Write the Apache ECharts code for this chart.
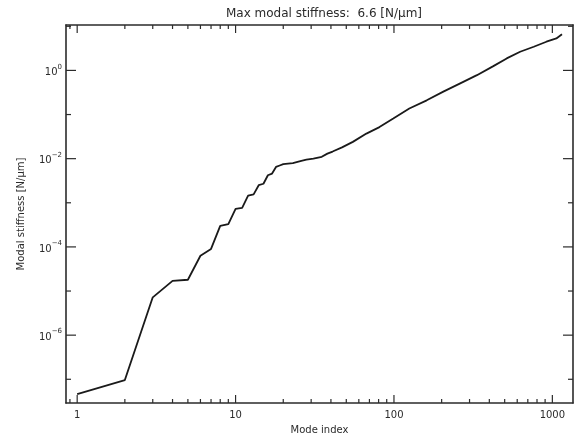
<!DOCTYPE html>
<html><head><meta charset="utf-8">
<script src="https://cdn.jsdelivr.net/npm/echarts@6/dist/echarts.min.js"></script>
<style>html,body{margin:0;padding:0;background:#fff}#c{width:583px;height:442px}</style>
</head><body><div id="c"></div>
<script>
const modeIndex = [1, 2, 3, 4, 5, 6, 7, 8, 9, 10, 11, 12, 13, 14, 15, 16, 17, 18, 19, 20,
  23, 26, 28, 31, 35, 38, 41, 47, 55, 67, 81, 99, 125, 161, 205, 262, 334, 424, 515, 626, 763, 917, 1060, 1150];
const stiffness = [4.6e-8, 9.6e-8, 7.2e-6, 1.7e-5, 1.8e-5, 6.3e-5, 9.0e-5, 3.0e-4, 3.3e-4, 7.3e-4,
  7.7e-4, 1.45e-3, 1.55e-3, 2.5e-3, 2.7e-3, 4.2e-3, 4.6e-3, 6.5e-3, 7.0e-3, 7.5e-3,
  7.9e-3, 8.9e-3, 9.5e-3, 1.0e-2, 1.1e-2, 1.3e-2, 1.45e-2, 1.8e-2, 2.4e-2, 3.7e-2, 5.2e-2, 8.1e-2,
  0.137, 0.21, 0.33, 0.51, 0.78, 1.25, 1.87, 2.65, 3.44, 4.47, 5.3, 6.6];
const xTickLabels = [1, 10, 100, 1000];
const yTickExponents = [0, -2, -4, -6];
const xRange = [0.85, 1350];
const yRange = [2.9e-8, 10.7];
const titleText = 'Max modal stiffness:  6.6 [N/\u03bcm]';

const FONT = 'DejaVu Sans';
const INK = '#2b2b2b';

// tick positions (decade sub-divisions) for the custom tick renderer
const xTicks = [];
for (let e = -1; e <= 4; e++) for (let m = 1; m <= 9; m++) {
  const v = m * Math.pow(10, e);
  if (v > xRange[0] && v < xRange[1]) xTicks.push([v, yRange[0], m === 1 ? 1 : 0]);
}
const yTicks = [];
for (let e = -8; e <= 1; e++) {
  const v = Math.pow(10, e);
  if (v > yRange[0] && v < yRange[1]) yTicks.push([xRange[0], v, yTickExponents.includes(e) ? 1 : 0]);
}

function isPow(v, list) {
  const e = Math.log10(v);
  const r = Math.round(e);
  return Math.abs(e - r) < 1e-6 ? r : null;
}

const chart = echarts.init(document.getElementById('c'), null, {renderer: 'canvas'});
const axisLine = {show: true, lineStyle: {color: INK, width: 1.6}};
chart.setOption({
  animation: false,
  backgroundColor: '#fff',
  title: {
    text: titleText, left: 319, top: 3, textAlign: 'center',
    textStyle: {fontFamily: FONT, fontSize: 12, fontWeight: 'normal', color: INK}
  },
  grid: {left: 66, right: 10, top: 25, bottom: 39, containLabel: false},
  xAxis: [{
    type: 'log', logBase: 10, min: xRange[0], max: xRange[1], position: 'bottom',
    axisLine, axisTick: {show: false}, splitLine: {show: false}, minorTick: {show: false},
    axisLabel: {
      show: true, margin: 7, fontFamily: FONT, fontSize: 10, color: INK,
      showMinLabel: true, showMaxLabel: true,
      formatter: v => { const e = isPow(v); return (e !== null && xTickLabels.includes(Math.pow(10, e))) ? String(Math.pow(10, e)) : ''; }
    },
    name: 'Mode index', nameLocation: 'middle', nameGap: 22,
    nameTextStyle: {fontFamily: FONT, fontSize: 10, color: INK}
  }, {
    type: 'log', logBase: 10, min: xRange[0], max: xRange[1], position: 'top',
    axisLine, axisTick: {show: false}, axisLabel: {show: false}, splitLine: {show: false}
  }],
  yAxis: [{
    type: 'log', logBase: 10, min: yRange[0], max: yRange[1], position: 'left',
    axisLine, axisTick: {show: false}, splitLine: {show: false}, minorTick: {show: false},
    axisLabel: {
      show: true, margin: 4, fontFamily: FONT, fontSize: 10, color: INK,
      formatter: v => { const e = isPow(v); return (e !== null && yTickExponents.includes(e)) ? '{b|10}{s|' + (e < 0 ? '\u2212' + (-e) : e) + '}' : ''; },
      rich: {
        b: {fontFamily: FONT, fontSize: 10, color: INK, verticalAlign: 'bottom', lineHeight: 14},
        s: {fontFamily: FONT, fontSize: 7, color: INK, verticalAlign: 'top', lineHeight: 14, padding: [0, 0, 6, 0]}
      }
    },
    name: 'Modal stiffness [N/\u03bcm]', nameLocation: 'middle', nameGap: 40, nameRotate: 90,
    nameTextStyle: {fontFamily: FONT, fontSize: 10, color: INK}
  }, {
    type: 'log', logBase: 10, min: yRange[0], max: yRange[1], position: 'right',
    axisLine, axisTick: {show: false}, axisLabel: {show: false}, splitLine: {show: false}
  }],
  series: [{
    type: 'line', xAxisIndex: 0, yAxisIndex: 0,
    data: modeIndex.map((n, i) => [n, stiffness[i]]),
    showSymbol: false, symbol: 'none',
    lineStyle: {color: '#1a1a1a', width: 1.8},
    silent: true
  }, {
    type: 'custom', xAxisIndex: 0, yAxisIndex: 0, silent: true, clip: false,
    data: xTicks, encode: {x: 0, y: 1},
    renderItem: (params, api) => {
      const cs = params.coordSys;
      const x = api.coord([api.value(0), yRange[0]])[0];
      const len = api.value(2) ? 8 : 4;
      const st = {stroke: INK, lineWidth: 1.2};
      return {type: 'group', children: [
        {type: 'line', shape: {x1: x, y1: cs.y + cs.height, x2: x, y2: cs.y + cs.height - len}, style: st},
        {type: 'line', shape: {x1: x, y1: cs.y, x2: x, y2: cs.y + len}, style: st}
      ]};
    }
  }, {
    type: 'custom', xAxisIndex: 0, yAxisIndex: 0, silent: true, clip: false,
    data: yTicks, encode: {x: 0, y: 1},
    renderItem: (params, api) => {
      const cs = params.coordSys;
      const y = api.coord([xRange[0], api.value(1)])[1];
      const len = api.value(2) ? 10 : 5;
      const st = {stroke: INK, lineWidth: 1.2};
      return {type: 'group', children: [
        {type: 'line', shape: {x1: cs.x, y1: y, x2: cs.x + len, y2: y}, style: st},
        {type: 'line', shape: {x1: cs.x + cs.width, y1: y, x2: cs.x + cs.width - len, y2: y}, style: st}
      ]};
    }
  }]
});
</script>
</body></html>
